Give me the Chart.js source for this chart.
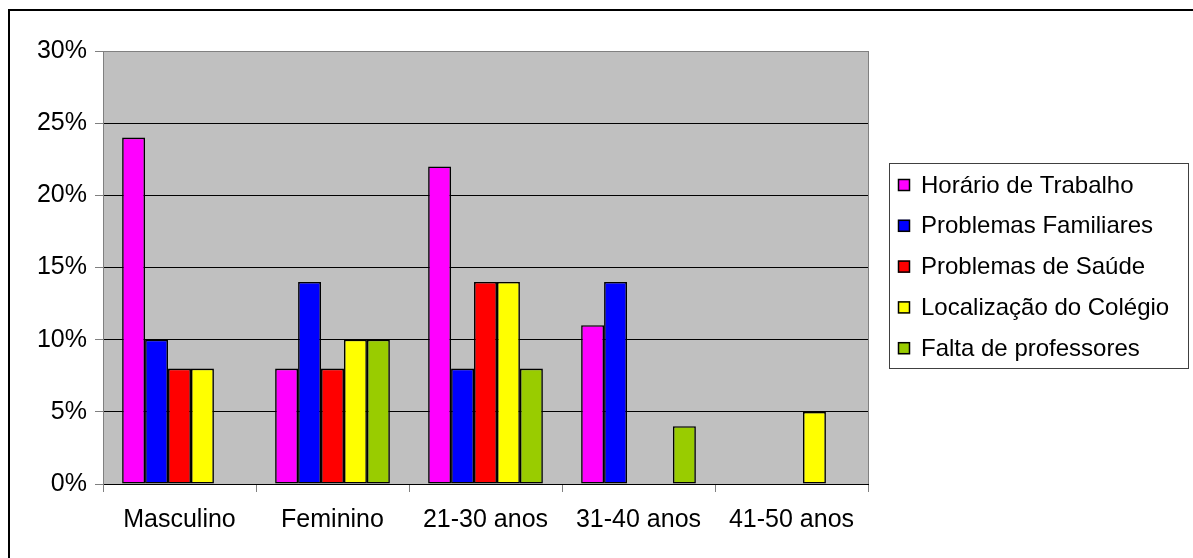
<!DOCTYPE html>
<html>
<head>
<meta charset="utf-8">
<title>Motivos</title>
<script src="https://cdn.jsdelivr.net/npm/chart.js@4.4.1/dist/chart.umd.min.js"></script>
<style>
    html, body { margin: 0; padding: 0; background: #fff; }
    #wrap { position: relative; width: 1193px; height: 558px; }
</style>
</head>
<body>
<div id="wrap"><canvas id="barChart"></canvas></div>
<script>
// DATA
const categories = ['Masculino', 'Feminino', '21-30 anos', '31-40 anos', '41-50 anos'];
const seriesNames = ['Horário de Trabalho', 'Problemas Familiares', 'Problemas de Saúde', 'Localização do Colégio', 'Falta de professores'];
const horario = [24, 8, 22, 11, 0];
const familiares = [10, 14, 8, 14, 0];
const saude = [8, 8, 14, 0, 0];
const localizacao = [8, 10, 14, 0, 5];
const faltaProf = [0, 10, 8, 4, 0];
const yTicks = [0, 5, 10, 15, 20, 25, 30];

const colors = ['#FF00FF', '#0000FF', '#FF0000', '#FFFF00', '#99CC00'];
const font = "Arial, 'Liberation Sans', sans-serif";

// plot background + frame + legend box
const decor = {
    id: 'decor',
    beforeDraw(chart) {
        const { ctx, chartArea: a } = chart;
        ctx.save();
        ctx.fillStyle = '#C0C0C0';
        ctx.fillRect(a.left, a.top, a.right - a.left, a.bottom - a.top);
        ctx.restore();
    },
    afterDraw(chart) {
        const { ctx, chartArea: a } = chart;
        ctx.save();
        // right plot border
        ctx.strokeStyle = '#808080';
        ctx.lineWidth = 1;
        ctx.beginPath();
        ctx.moveTo(a.right + 0.5, a.top);
        ctx.lineTo(a.right + 0.5, a.bottom);
        ctx.stroke();

        // outer frame (only left & top visible)
        ctx.strokeStyle = '#000';
        ctx.lineWidth = 2;
        ctx.beginPath();
        ctx.moveTo(9, 558);
        ctx.lineTo(9, 10);
        ctx.lineTo(1193, 10);
        ctx.stroke();

        // legend
        ctx.lineWidth = 1;
        ctx.strokeStyle = '#404040';
        ctx.strokeRect(889.5, 163.5, 299, 205);
        ctx.font = '24px ' + font;
        ctx.textBaseline = 'middle';
        ctx.textAlign = 'left';
        chart.data.datasets.forEach((ds, i) => {
            const y = 185 + i * 40.8;
            ctx.fillStyle = ds.backgroundColor;
            ctx.fillRect(898, y - 6, 12, 12);
            ctx.strokeStyle = '#000';
            ctx.lineWidth = 1.5;
            ctx.strokeRect(898.5, y - 5.5, 11, 11);
            ctx.fillStyle = '#000';
            ctx.fillText(ds.label, 921, y + 1);
        });
        ctx.restore();
    }
};

const allSeries = [horario, familiares, saude, localizacao, faltaProf];

const barData = {
    labels: categories,
    datasets: allSeries.map((vals, i) => ({
        label: seriesNames[i],
        data: vals,
        backgroundColor: colors[i],
        borderColor: '#000',
        borderWidth: 1.6,
        borderSkipped: false,
        categoryPercentage: 0.75,
        barPercentage: 1.0
    }))
};

const bar = new Chart(document.getElementById('barChart'), {
    type: 'bar',
    data: barData,
    plugins: [decor],
    options: {
        responsive: true,
        maintainAspectRatio: false,
        animation: false,
        layout: {
            padding: { top: 51, right: 325, left: 0, bottom: 0 }
        },
        scales: {
            x: {
                grid: {
                    offset: true,
                    drawOnChartArea: false,
                    tickLength: 8,
                    tickColor: '#808080'
                },
                border: { color: '#000', width: 1 },
                ticks: {
                    color: '#000',
                    padding: 13,
                    font: { family: font, size: 25 },
                    maxRotation: 0
                },
                afterFit(scale) { scale.height = 74; }
            },
            y: {
                min: 0,
                max: 30,
                afterBuildTicks(scale) {
                    scale.ticks = yTicks.map(v => ({ value: v }));
                },
                grid: {
                    color: ctx => ctx.tick && ctx.tick.value === 30 ? '#808080' : '#000',
                    tickLength: 8,
                    tickColor: '#808080'
                },
                border: { color: '#808080', width: 1 },
                ticks: {
                    color: '#000',
                    padding: 8,
                    font: { family: font, size: 25 },
                    callback: v => v + '%'
                },
                afterFit(scale) { scale.width = 103; }
            }
        },
        plugins: {
            legend: { display: false },
            tooltip: { enabled: false }
        }
    }
});
</script>
</body>
</html>
